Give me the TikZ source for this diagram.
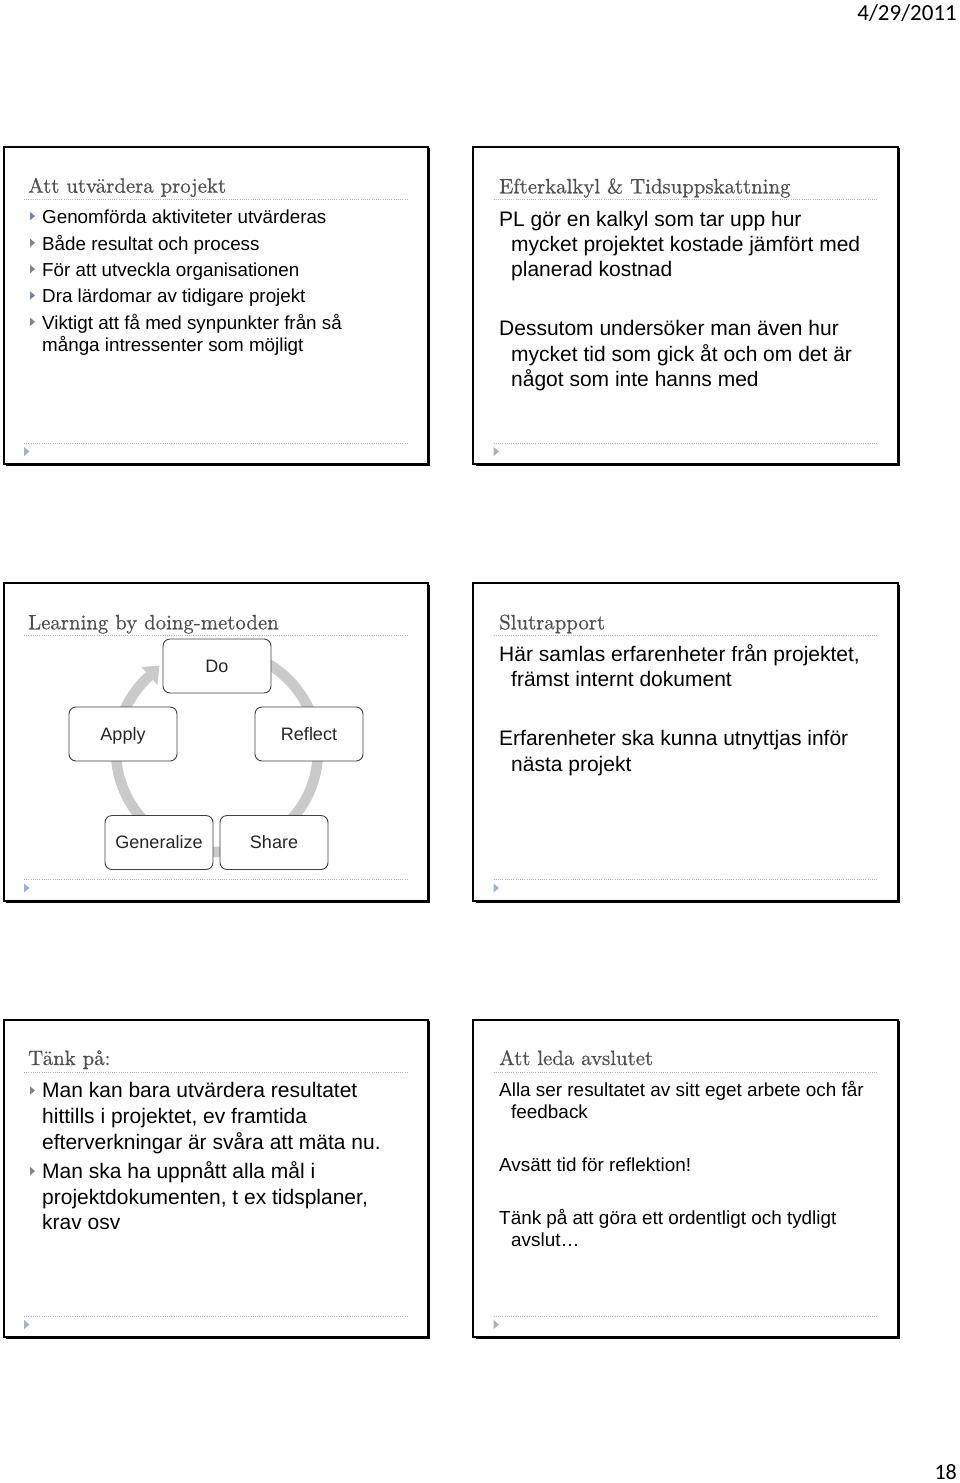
\documentclass[tikz,border=0pt]{standalone}
\usepackage{fontspec}
\newfontfamily\arialf{Liberation Sans}
\newfontfamily\calif{Carlito}
\newfontfamily\ttlf{lmroman10-regular.otf}[FakeBold=0.6]
\usetikzlibrary{calc}
\definecolor{titlegray}{HTML}{505050}
\definecolor{dotgray}{HTML}{B4B4B4}
\definecolor{bulc}{HTML}{7A8496}
\definecolor{footc}{HTML}{A3B0C6}
\definecolor{ringc}{HTML}{CACACA}
\definecolor{boxc}{HTML}{404040}
\newcommand{\slideframe}[2]{%
  \draw[line width=2pt] (#1,#2) rectangle ++(424.5,317.5);
  \draw[line width=1.2pt] ($(#1,#2)+(426,1.5)$) -- ++(0,317.5) -- ++(-423.5,0);
  \draw[dotl] ($(#1,#2)+(20.5,52.5)$) -- ++(385,0);
  \draw[dotl] ($(#1,#2)+(20.5,296.5)$) -- ++(385,0);
  \fill[footc] ($(#1,#2)+(20.5,300.5)$) -- ++(5.5,4.5) -- ++(-5.5,4.5) -- cycle;
}
\newcommand{\bul}[1]{%
  \fill[bulc] ([xshift=-12pt,yshift=3pt]#1.base west) -- ++(5,-4.2) -- ++(-5,-4.2) -- cycle;
}
\begin{document}
\begin{tikzpicture}[x=1pt,y=-1pt,
  dotl/.style={dotgray, line width=0.8pt, dash pattern=on 1pt off 1.2pt},
  ttl/.style={anchor=base west, inner sep=0pt, text=titlegray, font=\ttlf\fontsize{20.8}{24}\selectfont},
  txa/.style={anchor=base west, inner sep=0pt, font=\arialf\fontsize{18.8}{22}\selectfont},
  txb/.style={anchor=base west, inner sep=0pt, font=\arialf\fontsize{21}{25}\selectfont},
  txc/.style={anchor=base west, inner sep=0pt, font=\arialf\fontsize{18.9}{22}\selectfont},
  cbox/.style={draw=boxc, line width=0.9pt, rounded corners=7pt, fill=white,
    minimum width=108pt, minimum height=54pt, inner sep=0pt,
    text height=15pt, text depth=3pt,
    text=black!85, font=\arialf\fontsize{18}{20}\selectfont},
  ring/.style={ringc, line width=10.5pt}
]
\fill[white] (0,0) rectangle (960,1483);
\useasboundingbox (0,0) rectangle (960,1483);

% header and page number
\node[anchor=base east, inner sep=0pt, font=\calif\fontsize{23}{26}\selectfont] (date) at (957,20) {4/29/2011};
\node[anchor=base east, inner sep=0pt, font=\calif\fontsize{22}{26}\selectfont] (pnum) at (957,1479) {18};

% frames
\slideframe{3.5}{146.5}
\slideframe{473}{146.5}
\slideframe{3.5}{583}
\slideframe{473}{583}
\slideframe{3.5}{1019.5}
\slideframe{473}{1019.5}

% slide 1
\node[ttl] (t1) at (28,192.7) {Att utvärdera projekt};
\node[txa] (a1) at (42,223.3) {Genomförda aktiviteter utvärderas}; \bul{a1}
\node[txa] (a2) at (42,250) {Både resultat och process}; \bul{a2}
\node[txa] (a3) at (42,276.3) {För att utveckla organisationen}; \bul{a3}
\node[txa] (a4) at (42,302.7) {Dra lärdomar av tidigare projekt}; \bul{a4}
\node[txa] (a5) at (42,329) {Viktigt att få med synpunkter från så}; \bul{a5}
\node[txa] (a6) at (42,351.7) {många intressenter som möjligt};

% slide 2
\node[ttl] (t2) at (499,193.3) {Efterkalkyl \& Tidsuppskattning};
\node[txb] (b1) at (499,226) {PL gör en kalkyl som tar upp hur};
\node[txb] (b2) at (511,251.3) {mycket projektet kostade jämfört med};
\node[txb] (b3) at (511,276.7) {planerad kostnad};
\node[txb] (b4) at (499,335.7) {Dessutom undersöker man även hur};
\node[txb] (b5) at (511,361) {mycket tid som gick åt och om det är};
\node[txb] (b6) at (511,386.3) {något som inte hanns med};

% slide 3
\node[ttl] (t3) at (28,629.3) {Learning by doing-metoden};
\coordinate (cyc) at (217,751);
\draw[ring] ($(cyc)+(120:101pt)$) arc[start angle=120, end angle=-228, radius=101pt];
\fill[ringc] ($(cyc)+(124:103pt)$) -- ($(cyc)+(132:113pt)$) -- ($(cyc)+(132:89pt)$) -- cycle;
\node[cbox] (do) at (217,666) {Do};
\node[cbox] (apply) at (123,734) {Apply};
\node[cbox] (reflect) at (309,734) {Reflect};
\node[cbox] (gen) at (159,842.5) {Generalize};
\node[cbox] (share) at (274,842.5) {Share};

% slide 4
\node[ttl] (t4) at (499,629.3) {Slutrapport};
\node[txb] (d1) at (499,661.7) {Här samlas erfarenheter från projektet,};
\node[txb] (d2) at (511,686.7) {främst internt dokument};
\node[txb] (d3) at (499,745.7) {Erfarenheter ska kunna utnyttjas inför};
\node[txb] (d4) at (511,771) {nästa projekt};

% slide 5
\node[ttl] (t5) at (28,1065) {Tänk på:};
\node[txb] (e1) at (42,1097.7) {Man kan bara utvärdera resultatet}; \bul{e1}
\node[txb] (e2) at (42,1123.3) {hittills i projektet, ev framtida};
\node[txb] (e3) at (42,1149) {efterverkningar är svåra att mäta nu.};
\node[txb] (e4) at (42,1178.3) {Man ska ha uppnått alla mål i}; \bul{e4}
\node[txb] (e5) at (42,1204.3) {projektdokumenten, t ex tidsplaner,};
\node[txb] (e6) at (42,1229.3) {krav osv};

% slide 6
\node[ttl] (t6) at (499,1065) {Att leda avslutet};
\node[txc] (f1) at (499,1096) {Alla ser resultatet av sitt eget arbete och får};
\node[txc] (f2) at (511,1118.3) {feedback};
\node[txc] (f3) at (499,1171) {Avsätt tid för reflektion!};
\node[txc] (f4) at (499,1224.3) {Tänk på att göra ett ordentligt och tydligt};
\node[txc] (f5) at (511,1246) {avslut…};
\end{tikzpicture}
\end{document}
